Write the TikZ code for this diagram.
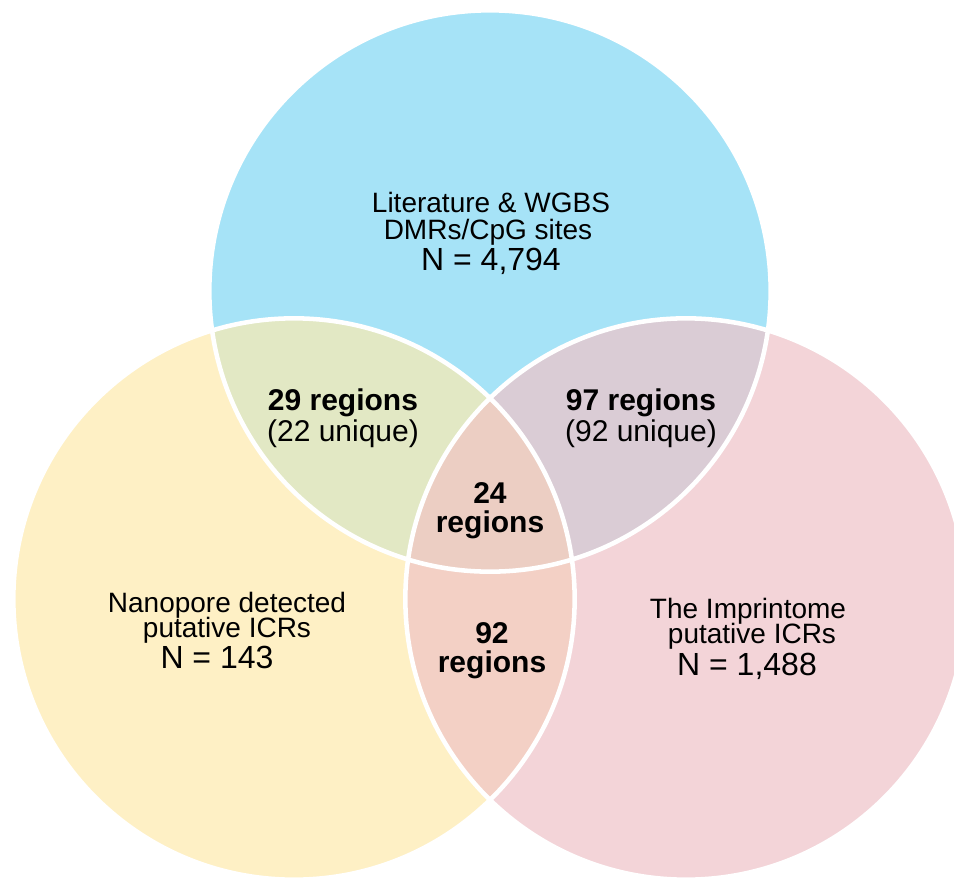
\documentclass[tikz,border=0pt]{standalone}
\usepackage{fontspec}
\setmainfont{Liberation Sans}

\definecolor{litblue}{RGB}{166,227,247}
\definecolor{nanoyellow}{RGB}{254,240,197}
\definecolor{imppink}{RGB}{243,212,216}
\definecolor{litnano}{RGB}{226,232,196}
\definecolor{litimp}{RGB}{218,204,213}
\definecolor{nanoimp}{RGB}{243,208,197}
\definecolor{allthree}{RGB}{236,206,195}

\def\rad{210.5pt}

\begin{document}
\begin{tikzpicture}[x=0.75pt, y=-0.75pt,
    ring/.style = {draw=white, line width=3.4pt},
    setname/.style = {anchor=base, inner sep=0pt, font=\fontsize{21}{24}\selectfont},
    setcount/.style = {anchor=base, inner sep=0pt, font=\fontsize{24}{28}\selectfont},
    hitbold/.style = {anchor=base, inner sep=0pt, font=\fontsize{22.5}{26}\selectfont\bfseries},
    hitplain/.style = {anchor=base, inner sep=0pt, font=\fontsize{22.5}{26}\selectfont}]
    \useasboundingbox (0,0) rectangle (954,878);

    % circle centres
    \coordinate (lit) at (490,291);
    \coordinate (nano) at (294,599);
    \coordinate (imp) at (686,599);

    % single sets
    \fill[litblue] (lit) circle [radius=\rad];
    \fill[nanoyellow] (nano) circle [radius=\rad];
    \fill[imppink] (imp) circle [radius=\rad];

    % pairwise overlaps
    \begin{scope}
        \clip (nano) circle [radius=\rad];
        \fill[nanoimp] (imp) circle [radius=\rad];
    \end{scope}
    \begin{scope}
        \clip (lit) circle [radius=\rad];
        \fill[litnano] (nano) circle [radius=\rad];
    \end{scope}
    \begin{scope}
        \clip (lit) circle [radius=\rad];
        \fill[litimp] (imp) circle [radius=\rad];
    \end{scope}
    % triple overlap
    \begin{scope}
        \clip (lit) circle [radius=\rad];
        \clip (nano) circle [radius=\rad];
        \fill[allthree] (imp) circle [radius=\rad];
    \end{scope}

    % outlines
    \draw[ring] (lit) circle [radius=\rad];
    \draw[ring] (nano) circle [radius=\rad];
    \draw[ring] (imp) circle [radius=\rad];

    % set labels
    \node[setname] (litA) at (491,212) {Literature \& WGBS};
    \node[setname] (litB) at (488,239) {DMRs/CpG sites};
    \node[setcount] (litN) at (491,270) {N = 4,794};

    \node[setname] (nanoA) at (227,612) {Nanopore detected};
    \node[setname] (nanoB) at (227,637) {putative ICRs};
    \node[setcount] (nanoN) at (217,668) {N = 143};

    \node[setname] (impA) at (748,618) {The Imprintome};
    \node[setname] (impB) at (752,643) {putative ICRs};
    \node[setcount] (impN) at (747,675) {N = 1,488};

    % overlap labels
    \node[hitbold] (lnA) at (343,410) {29 regions};
    \node[hitplain] (lnB) at (343,441) {(22 unique)};
    \node[hitbold] (liA) at (641,410) {97 regions};
    \node[hitplain] (liB) at (641,441) {(92 unique)};
    \node[hitbold] (allA) at (490,503) {24};
    \node[hitbold] (allB) at (490,532) {regions};
    \node[hitbold] (niA) at (492,643) {92};
    \node[hitbold] (niB) at (492,672) {regions};
\end{tikzpicture}
\end{document}
